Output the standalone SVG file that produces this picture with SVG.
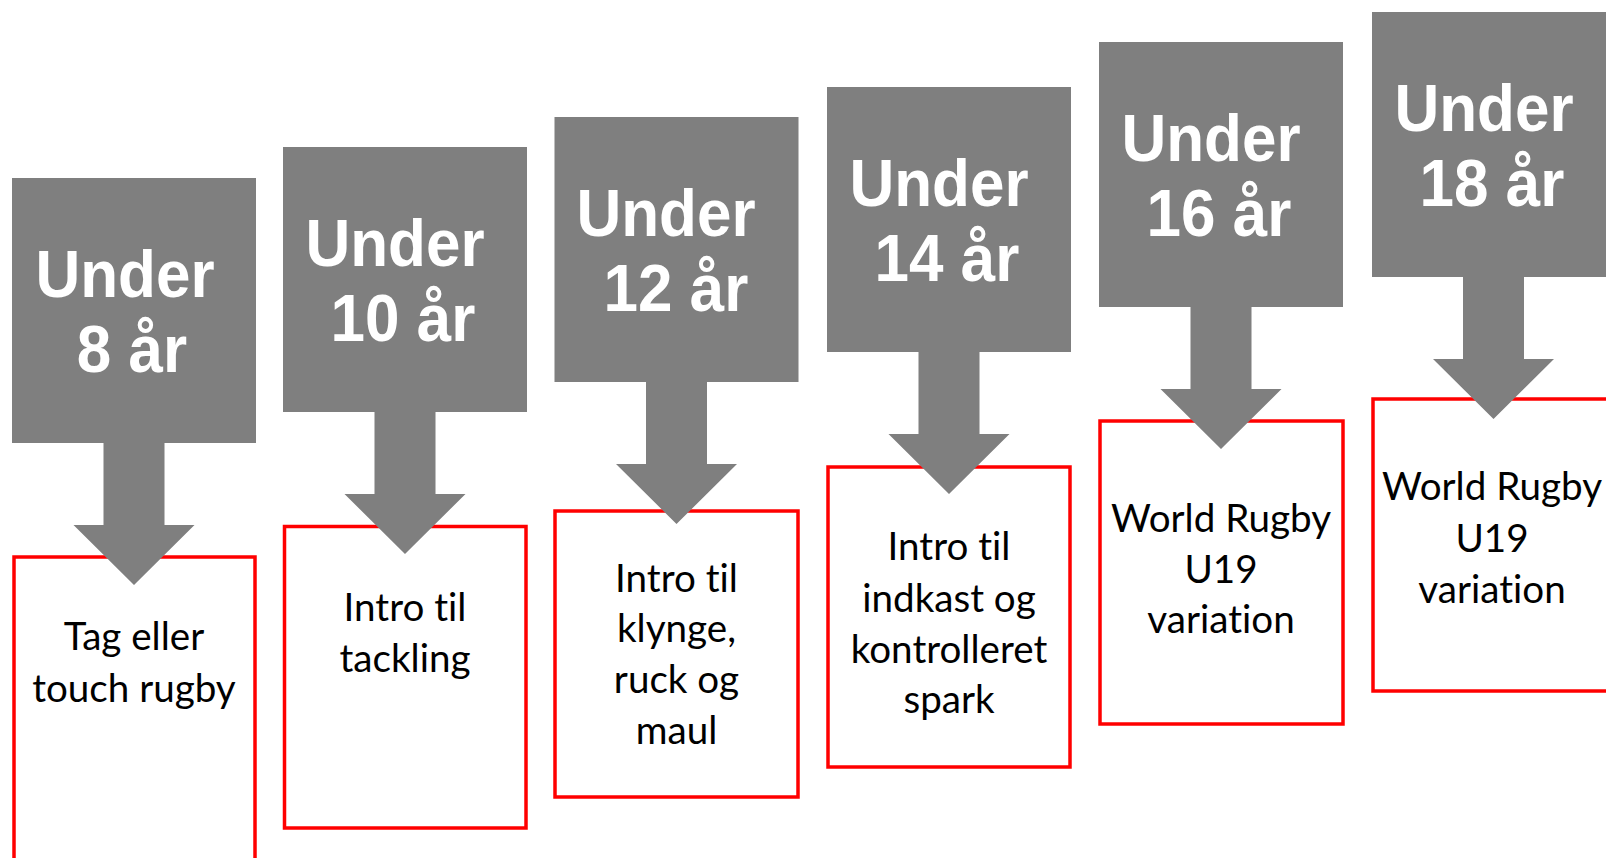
<svg xmlns="http://www.w3.org/2000/svg" width="1606" height="858" viewBox="0 0 1606 858">
<style>
.bg{fill:#ffffff}
.age{fill:#7f7f7f}
.box{fill:#ffffff;stroke:#ff0000;stroke-width:3.5}
.arrow{fill:#7f7f7f}
.h{font-family:"Liberation Sans",Arial,sans-serif;font-weight:bold;font-size:62px;fill:#ffffff;text-anchor:middle}
.t{font-family:Lato,"Liberation Sans",sans-serif;font-size:38.6px;fill:#000000;text-anchor:middle;font-variant-ligatures:none;font-feature-settings:"liga" 0,"clig" 0,"dlig" 0}
</style>
<rect class="bg" x="0" y="0" width="1606" height="858"/>

<g id="u8">
  <rect class="age" x="12" y="178" width="244" height="265"/>
  <text class="h" transform="translate(125,297) scale(1,1.07)">Under</text>
  <text class="h" transform="translate(132,372) scale(1,1.07)">8 år</text>
  <rect class="box" x="14" y="557" width="241" height="360"/>
  <text class="t" x="134" y="650">Tag eller</text>
  <text class="t" x="134" y="702">touch rugby</text>
</g>

<g id="u10">
  <rect class="age" x="283" y="147" width="244" height="265"/>
  <text class="h" transform="translate(395,266) scale(1,1.07)">Under</text>
  <text class="h" transform="translate(403,341) scale(1,1.07)">10 år</text>
  <rect class="box" x="284.5" y="526.5" width="241.5" height="301.5"/>
  <text class="t" x="405" y="621">Intro til</text>
  <text class="t" x="405" y="672">tackling</text>
</g>

<g id="u12">
  <rect class="age" x="554.5" y="117" width="244" height="265"/>
  <text class="h" transform="translate(666,236) scale(1,1.07)">Under</text>
  <text class="h" transform="translate(676,311) scale(1,1.07)">12 år</text>
  <rect class="box" x="555" y="511" width="243" height="286"/>
  <text class="t" x="676.5" y="592">Intro til</text>
  <text class="t" x="676.5" y="642">klynge,</text>
  <text class="t" x="676.5" y="693">ruck og</text>
  <text class="t" x="676.5" y="744">maul</text>
</g>

<g id="u14">
  <rect class="age" x="827" y="87" width="244" height="265"/>
  <text class="h" transform="translate(939,206) scale(1,1.07)">Under</text>
  <text class="h" transform="translate(947,281) scale(1,1.07)">14 år</text>
  <rect class="box" x="828" y="467" width="242" height="300"/>
  <text class="t" x="949" y="560">Intro til</text>
  <text class="t" x="949" y="612">indkast og</text>
  <text class="t" x="949" y="663">kontrolleret</text>
  <text class="t" x="949" y="713">spark</text>
</g>

<g id="u16">
  <rect class="age" x="1099" y="42" width="244" height="265"/>
  <text class="h" transform="translate(1211,161) scale(1,1.07)">Under</text>
  <text class="h" transform="translate(1219,236) scale(1,1.07)">16 år</text>
  <rect class="box" x="1100" y="421" width="243" height="303"/>
  <text class="t" x="1221" y="532">World Rugby</text>
  <text class="t" x="1221" y="583">U19</text>
  <text class="t" x="1221" y="633">variation</text>
</g>

<g id="u18">
  <rect class="age" x="1372" y="12" width="260" height="265"/>
  <text class="h" transform="translate(1484,131) scale(1,1.07)">Under</text>
  <text class="h" transform="translate(1492,206) scale(1,1.07)">18 år</text>
  <rect class="box" x="1373" y="399" width="260" height="292"/>
  <text class="t" x="1492" y="500">World Rugby</text>
  <text class="t" x="1492" y="552">U19</text>
  <text class="t" x="1492" y="603">variation</text>
</g>

<g id="connectors">
  <path class="arrow" d="M103.5 442 H164.5 V525 H194.5 L134 585 L73.5 525 H103.5 Z"/>
  <path class="arrow" d="M374.5 411 H435.5 V494 H465.5 L405 554 L344.5 494 H374.5 Z"/>
  <path class="arrow" d="M646 381 H707 V464 H737 L676.5 524 L616 464 H646 Z"/>
  <path class="arrow" d="M918.5 351 H979.5 V434 H1009.5 L949 494 L888.5 434 H918.5 Z"/>
  <path class="arrow" d="M1190.5 306 H1251.5 V389 H1281.5 L1221 449 L1160.5 389 H1190.5 Z"/>
  <path class="arrow" d="M1463 276 H1524 V359 H1554 L1493.5 419 L1433 359 H1463 Z"/>
</g>
</svg>
